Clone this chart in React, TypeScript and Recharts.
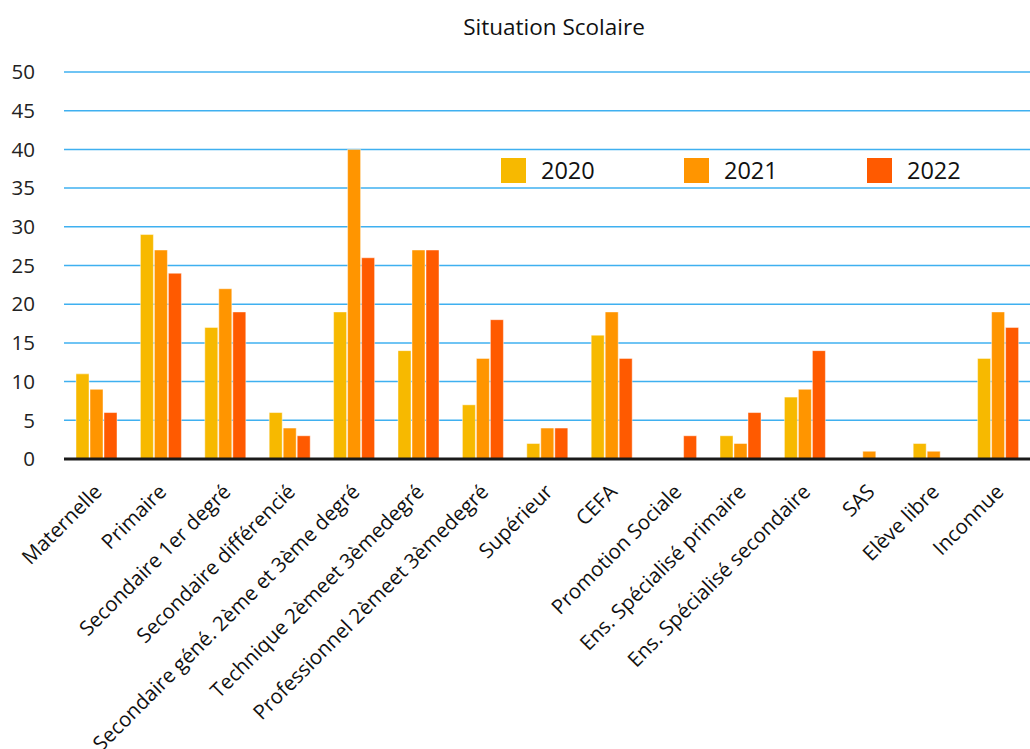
import React from 'react';
import { BarChart, Bar, XAxis, YAxis, CartesianGrid } from 'recharts';

const categories = [
  'Maternelle',
  'Primaire',
  'Secondaire 1er degré',
  'Secondaire différencié',
  'Secondaire géné. 2ème et 3ème degré',
  'Technique 2èmeet 3èmedegré',
  'Professionnel 2èmeet 3èmedegré',
  'Supérieur',
  'CEFA',
  'Promotion Sociale',
  'Ens. Spécialisé primaire',
  'Ens. Spécialisé secondaire',
  'SAS',
  'Elève libre',
  'Inconnue',
];

const values2020 = [11, 29, 17, 6, 19, 14, 7, 2, 16, 0, 3, 8, 0, 2, 13];
const values2021 = [9, 27, 22, 4, 40, 27, 13, 4, 19, 0, 2, 9, 1, 1, 19];
const values2022 = [6, 24, 19, 3, 26, 27, 18, 4, 13, 3, 6, 14, 0, 0, 17];

const yTicks = [0, 5, 10, 15, 20, 25, 30, 35, 40, 45, 50];

const series = [
  { key: '2020', color: '#f7b900' },
  { key: '2021', color: '#ff9500' },
  { key: '2022', color: '#ff5a00' },
];

const data = categories.map((name, i) => ({
  name,
  '2020': values2020[i],
  '2021': values2021[i],
  '2022': values2022[i],
}));

const FONT = '"Open Sans", Lato, sans-serif';

const CategoryTick = (props: any) => {
  const { x, y, payload } = props;
  return (
    <text
      transform={`translate(${x + 7},${y + 26}) rotate(-45)`}
      textAnchor="end"
      fontSize={20.5}
      fontFamily={FONT}
      fill="#111"
    >
      {payload.value}
    </text>
  );
};

// legend sits inside the plot, drawn as plain HTML so it takes no space from the axes
const YearLegend = () => (
  <div style={{ position: 'absolute', top: 154, left: 501, display: 'flex', fontFamily: FONT }}>
    {series.map((s) => (
      <div key={s.key} style={{ display: 'flex', alignItems: 'center', width: 183 }}>
        <span style={{ width: 25, height: 25, background: s.color, display: 'inline-block' }} />
        <span style={{ marginLeft: 15, fontSize: 23.5, color: '#111' }}>{s.key}</span>
      </div>
    ))}
  </div>
);

export default function App() {
  return (
    <div style={{ position: 'absolute', left: 0, top: 0, width: 1030, height: 749, background: '#fff', overflow: 'hidden' }}>
      <div
        style={{
          position: 'absolute',
          top: 11,
          left: 0,
          width: 1108,
          textAlign: 'center',
          fontFamily: FONT,
          fontSize: 22.5,
          color: '#111',
        }}
      >
        Situation Scolaire
      </div>
      <BarChart
        width={1030}
        height={749}
        data={data}
        margin={{ top: 72, right: 0, bottom: 0, left: 0 }}
        barCategoryGap={12}
        barGap={1}
      >
        <CartesianGrid horizontal vertical={false} stroke="#3fb0f0" strokeWidth={1.5} />
        <XAxis
          dataKey="name"
          interval={0}
          height={290}
          tick={<CategoryTick />}
          tickLine={false}
          axisLine={{ stroke: '#1a1a1a', strokeWidth: 3 }}
        />
        <YAxis
          domain={[0, 50]}
          ticks={yTicks}
          width={64}
          tickLine={false}
          axisLine={false}
          tickSize={0}
          tickMargin={29}
          tick={{ fontSize: 20.5, fontFamily: FONT, fill: '#222' }}
        />
        {series.map((s) => (
          <Bar
            key={s.key}
            dataKey={s.key}
            fill={s.color}
            stroke="#ffffff"
            strokeOpacity={0.45}
            strokeWidth={1}
            isAnimationActive={false}
          />
        ))}
      </BarChart>
      <YearLegend />
    </div>
  );
}
